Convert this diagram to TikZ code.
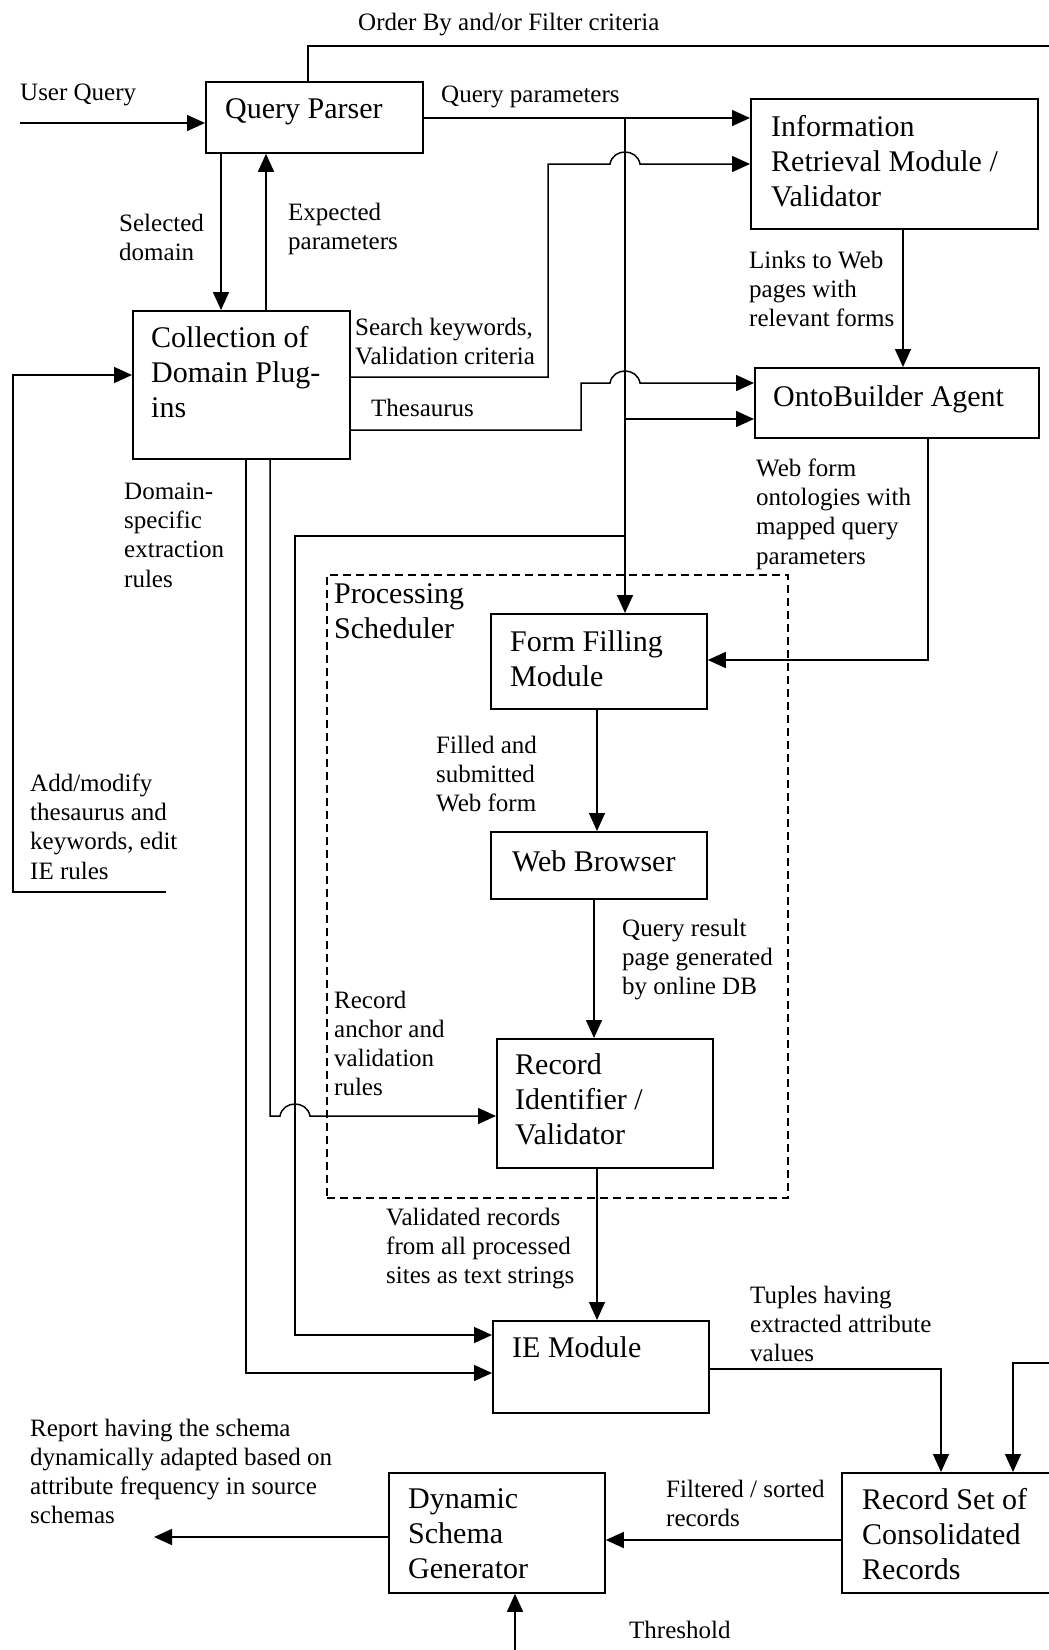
\documentclass[tikz,border=0pt]{standalone}
\usepackage{fontspec}
\setmainfont{Liberation Serif}
\usetikzlibrary{arrows.meta}
\begin{document}
\begin{tikzpicture}[x=1pt,y=-1pt,
  box/.style={draw, line width=1.8pt, anchor=north west, inner sep=0pt},
  psbox/.style={draw, line width=1.5pt, dash pattern=on 8pt off 5pt, anchor=north west, inner sep=0pt},
  btxt/.style={anchor=north west, inner sep=0pt, align=left, font=\fontsize{30}{35}\selectfont},
  ltxt/.style={anchor=north west, inner sep=0pt, align=left, font=\fontsize{25}{29.3}\selectfont},
  conn/.style={line width=1.5pt},
  arr/.style={conn, -{Triangle[length=18pt,width=16pt]}},
]
\useasboundingbox (0,0) rectangle (1049,1650);
\clip (0,0) rectangle (1049,1650);

% boxes
\node[box, minimum width=217pt, minimum height=71pt] (qp) at (205,81) {};
\node[box, minimum width=287pt, minimum height=130pt] (ir) at (750,98) {};
\node[box, minimum width=217pt, minimum height=148pt] (cdp) at (132,310) {};
\node[box, minimum width=284pt, minimum height=70pt] (ob) at (754,367) {};
\node[psbox, minimum width=461pt, minimum height=623pt] (ps) at (326,574) {};
\node[box, minimum width=216pt, minimum height=95pt] (ff) at (490,613) {};
\node[box, minimum width=216pt, minimum height=67pt] (wb) at (490,831) {};
\node[box, minimum width=216pt, minimum height=129pt] (ri) at (496,1038) {};
\node[box, minimum width=216pt, minimum height=92pt] (ie) at (492,1320) {};
\node[box, minimum width=216pt, minimum height=120pt] (dsg) at (388,1472) {};
\node[box, minimum width=240pt, minimum height=120pt] (rs) at (841,1472) {};

% box texts
\node[btxt] (qpt) at (225,98.5) {Query Parser};
\node[btxt] (irt) at (771,115.5) {Information\\Retrieval Module /\\Validator};
\node[btxt] (cdpt) at (151,326.5) {Collection of\\Domain Plug-\\ins};
\node[btxt] (obt) at (773,385.5) {OntoBuilder Agent};
\node[btxt] (pst) at (334,583.5) {Processing\\Scheduler};
\node[btxt] (fft) at (510,630.5) {Form Filling\\Module};
\node[btxt] (wbt) at (512,850.5) {Web Browser};
\node[btxt] (rit) at (515,1053.5) {Record\\Identifier /\\Validator};
\node[btxt] (iet) at (512,1336.5) {IE Module};
\node[btxt] (dsgt) at (408,1488.5) {Dynamic\\Schema\\Generator};
\node[btxt] (rst) at (862,1488.5) {Record Set of\\Consolidated\\Records};

% labels
\node[ltxt] (lorder) at (358,12.5) {Order By and/or Filter criteria};
\node[ltxt] (luq) at (20,83.5) {User Query};
\node[ltxt] (lqp) at (441,85.5) {Query parameters};
\node[ltxt] (lsel) at (119,213.5) {Selected\\domain};
\node[ltxt] (lexp) at (288,202.5) {Expected\\parameters};
\node[ltxt] (lsearch) at (355,317.5) {Search keywords,\\Validation criteria};
\node[ltxt] (lthes) at (371,398.5) {Thesaurus};
\node[ltxt] (llinks) at (749,250.5) {Links to Web\\pages with\\relevant forms};
\node[ltxt] (lwebform) at (756,458.5) {Web form\\ontologies with\\mapped query\\parameters};
\node[ltxt] (ldom) at (124,482.5) {Domain-\\specific\\extraction\\rules};
\node[ltxt] (lfilled) at (436,735.5) {Filled and\\submitted\\Web form};
\node[ltxt] (ladd) at (30,773.5) {Add/modify\\thesaurus and\\keywords, edit\\IE rules};
\node[ltxt] (lqres) at (622,918.5) {Query result\\page generated\\by online DB};
\node[ltxt] (lanchor) at (334,990.5) {Record\\anchor and\\validation\\rules};
\node[ltxt] (lvalid) at (386,1207.5) {Validated records\\from all processed\\sites as text strings};
\node[ltxt] (ltuples) at (750,1285.5) {Tuples having\\extracted attribute\\values};
\node[ltxt] (lreport) at (30,1418.5) {Report having the schema\\dynamically adapted based on\\attribute frequency in source\\schemas};
\node[ltxt] (lfilt) at (666,1479.5) {Filtered / sorted\\records};
\node[ltxt] (lthr) at (629,1620.5) {Threshold};

% coordinates
\coordinate (uqs) at (20,123);
\coordinate (tq) at (308,46);
\coordinate (obf) at (1060,46);
\coordinate (tr) at (625,118);
\coordinate (b1) at (625,419);
\coordinate (b2) at (625,536);
\coordinate (b2l) at (295,536);
\coordinate (iea) at (295,1335);
\coordinate (sd) at (221,0);
\coordinate (ep) at (266,0);
\coordinate (s1) at (548,377);
\coordinate (s2) at (548,164);
\coordinate (t1) at (581,430);
\coordinate (t2) at (581,383);
\coordinate (lk) at (903,0);
\coordinate (wf) at (928,660);
\coordinate (fw) at (597,0);
\coordinate (wr) at (594,0);
\coordinate (rie) at (597,0);
\coordinate (c1) at (246,1373);
\coordinate (c2) at (270,1116);
\coordinate (f0) at (166,892);
\coordinate (f1) at (13,892);
\coordinate (f2) at (13,375);
\coordinate (tp) at (941,1369);
\coordinate (rf0) at (1060,1363);
\coordinate (rf1) at (1013,1363);
\coordinate (fs) at (0,1540);
\coordinate (rp) at (154,1537);
\coordinate (th) at (515,1660);

% connectors
\draw[arr] (uqs) -- (uqs -| qp.west);
\draw[conn] (tq |- qp.north) -- (tq) -- (obf);
\draw[arr] (qp.east |- tr) -- (tr -| ir.west);
\draw[arr] (tr) -- (tr |- ff.north);
\draw[arr] (b1) -- (b1 -| ob.west);
\draw[arr] (b2) -- (b2l) -- (iea) -- (iea -| ie.west);
\draw[arr] (sd |- qp.south) -- (sd |- cdp.north);
\draw[arr] (ep |- cdp.north) -- (ep |- qp.south);
\draw[arr] (s1 -| cdp.east) -- (s1) -- (s2) -- (610,164) .. controls (613,148) and (637,148) .. (640,164) -- (s2 -| ir.west);
\draw[arr] (t1 -| cdp.east) -- (t1) -- (t2) -- (610,383) .. controls (613,367) and (637,367) .. (640,383) -- (t2 -| ob.west);
\draw[arr] (lk |- ir.south) -- (lk |- ob.north);
\draw[arr] (wf |- ob.south) -- (wf) -- (wf -| ff.east);
\draw[arr] (fw |- ff.south) -- (fw |- wb.north);
\draw[arr] (wr |- wb.south) -- (wr |- ri.north);
\draw[arr] (rie |- ri.south) -- (rie |- ie.north);
\draw[arr] (c1 |- cdp.south) -- (c1) -- (c1 -| ie.west);
\draw[arr] (c2 |- cdp.south) -- (c2) -- (280,1116) .. controls (283,1100) and (307,1100) .. (310,1116) -- (c2 -| ri.west);
\draw[arr] (f0) -- (f1) -- (f2) -- (f2 -| cdp.west);
\draw[arr] (tp -| ie.east) -- (tp) -- (tp |- rs.north);
\draw[arr] (rf0) -- (rf1) -- (rf1 |- rs.north);
\draw[arr] (fs -| rs.west) -- (fs -| dsg.east);
\draw[arr] (rp -| dsg.west) -- (rp);
\draw[arr] (th) -- (th |- dsg.south);
\end{tikzpicture}
\end{document}
